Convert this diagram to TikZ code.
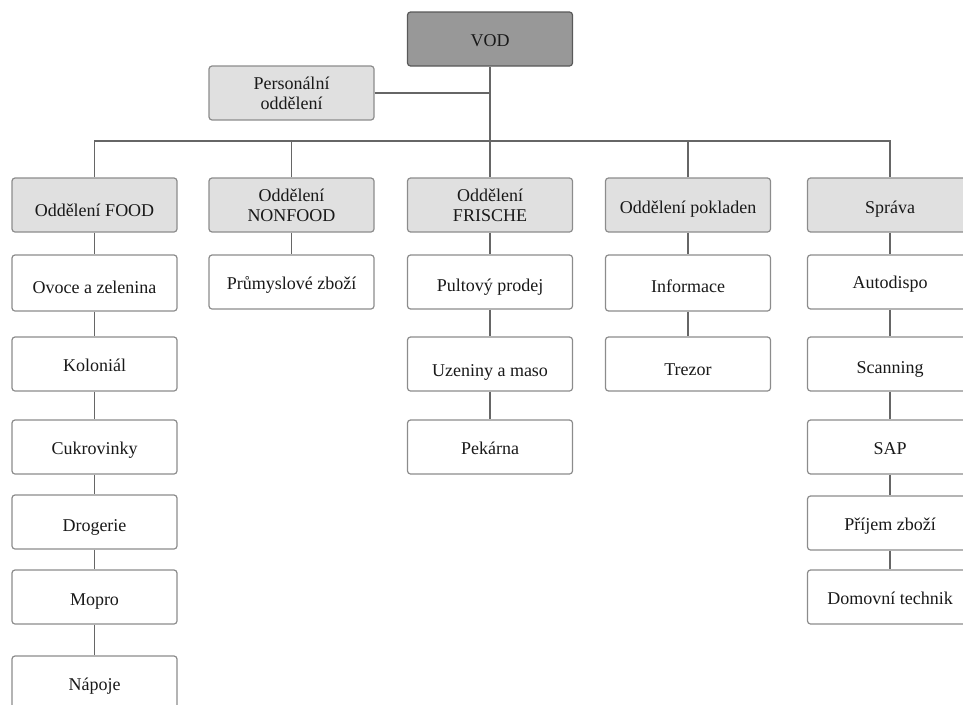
\documentclass[tikz,border=0pt]{standalone}
\usepackage{fontspec}
\setmainfont{Liberation Serif}
\definecolor{linec}{HTML}{666666}
\definecolor{boxc}{HTML}{8C8C8C}
\definecolor{headfill}{HTML}{E0E0E0}
\definecolor{topfill}{HTML}{989898}
\newcommand{\dn}[2]{\raisebox{-#1pt}[\height][\depth]{#2}}
\begin{document}
\begin{tikzpicture}[x=1pt,y=-1pt,
  base/.style={draw=boxc,line width=1.2pt,rounded corners=3pt,minimum width=165pt,minimum height=54pt,inner sep=2pt,align=center,font=\fontsize{18}{20}\selectfont,text=black!90},
  topbox/.style={base,fill=topfill,draw=black!65},
  headbox/.style={base,fill=headfill},
  leafbox/.style={base,fill=white},
  conn/.style={draw=linec,line width=1.3pt}]
\useasboundingbox (0,0) rectangle (963,704);
\clip (0,0) rectangle (963,704);
% top
\node[topbox] (vod) at (490,39) {\dn{2}{VOD}};
\node[headbox] (pers) at (291.5,93) {Personální\\oddělení};
% level 2
\node[headbox] (food) at (94.5,205) {\dn{5}{Oddělení FOOD}};
\node[headbox] (nonfood) at (291.5,205) {Oddělení\\NONFOOD};
\node[headbox] (frische) at (490,205) {Oddělení\\FRISCHE};
\node[headbox] (pokl) at (688,205) {\dn{4}{Oddělení pokladen}};
\node[headbox] (sprava) at (890,205) {\dn{4}{Správa}};
% food column
\node[leafbox,minimum height=56pt] (ovoce) at (94.5,283) {\dn{4}{Ovoce a zelenina}};
\node[leafbox] (kolon) at (94.5,364) {\dn{1}{Koloniál}};
\node[leafbox] (cukr) at (94.5,447) {\dn{3}{Cukrovinky}};
\node[leafbox] (drog) at (94.5,522) {\dn{5}{Drogerie}};
\node[leafbox] (mopro) at (94.5,597) {\dn{5}{Mopro}};
\node[leafbox] (napoje) at (94.5,683) {\dn{3}{Nápoje}};
% nonfood
\node[leafbox] (prum) at (291.5,282) {\dn{3}{Průmyslové zboží}};
% frische
\node[leafbox] (pult) at (490,282) {\dn{5}{Pultový prodej}};
\node[leafbox] (uzen) at (490,364) {\dn{8}{Uzeniny a maso}};
\node[leafbox] (pek) at (490,447) {\dn{1}{Pekárna}};
% pokladen
\node[leafbox,minimum height=56pt] (info) at (688,283) {\dn{3}{Informace}};
\node[leafbox] (trezor) at (688,364) {\dn{6}{Trezor}};
% sprava
\node[leafbox] (auto) at (890,282) {\dn{2}{Autodispo}};
\node[leafbox] (scan) at (890,364) {\dn{5}{Scanning}};
\node[leafbox] (sap) at (890,447) {\dn{2}{SAP}};
\node[leafbox] (prijem) at (890,523) {\dn{3}{Příjem zboží}};
\node[leafbox] (domov) at (890,597) {\dn{1}{Domovní technik}};
% connectors
\coordinate (bus) at (490,141);
\draw[conn] (vod) -- (frische);
\draw[conn] (pers.east) -- (pers.east -| vod.south);
\draw[conn] (food.north) -- (food.north |- bus) -- (sprava.north |- bus) -- (sprava.north);
\draw[conn] (nonfood.north) -- (nonfood.north |- bus);
\draw[conn] (pokl.north) -- (pokl.north |- bus);
\draw[conn] (food) -- (ovoce);
\draw[conn] (ovoce) -- (kolon);
\draw[conn] (kolon) -- (cukr);
\draw[conn] (cukr) -- (drog);
\draw[conn] (drog) -- (mopro);
\draw[conn] (mopro) -- (napoje);
\draw[conn] (nonfood) -- (prum);
\draw[conn] (frische) -- (pult);
\draw[conn] (pult) -- (uzen);
\draw[conn] (uzen) -- (pek);
\draw[conn] (pokl) -- (info);
\draw[conn] (info) -- (trezor);
\draw[conn] (sprava) -- (auto);
\draw[conn] (auto) -- (scan);
\draw[conn] (scan) -- (sap);
\draw[conn] (sap) -- (prijem);
\draw[conn] (prijem) -- (domov);
\end{tikzpicture}
\end{document}
